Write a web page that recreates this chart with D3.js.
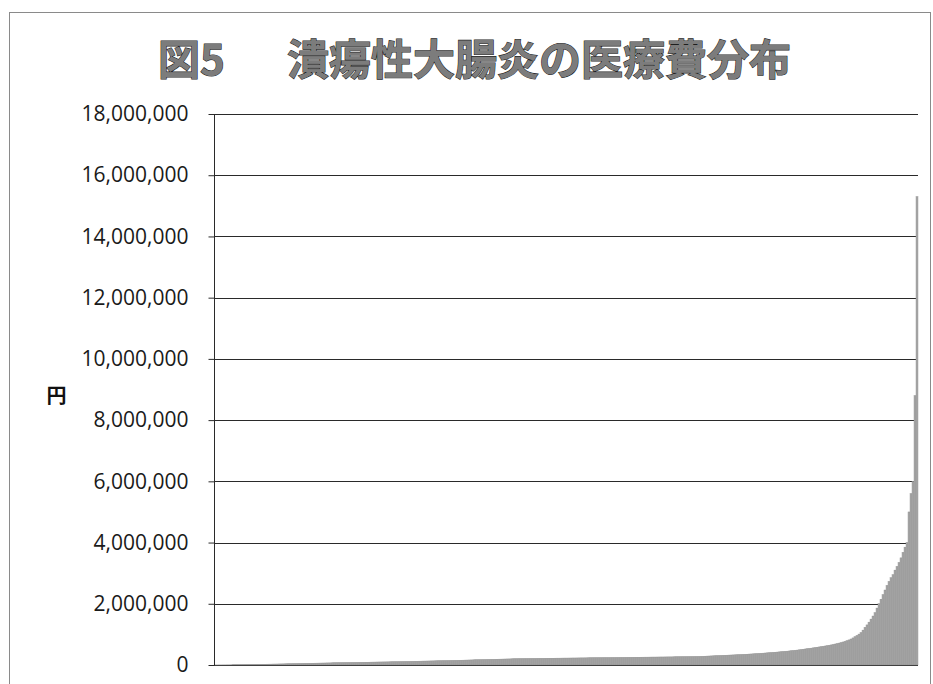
<!DOCTYPE html>
<html>
<head>
<meta charset="utf-8">
<script src="https://cdn.jsdelivr.net/npm/d3@7"></script>
<style>
  html, body { margin: 0; padding: 0; background: #fff; }
  svg { display: block; }
</style>
</head>
<body>
<svg id="chart" width="933" height="684"></svg>
<script>
// 患者別医療費（千円）、昇順
const costK = [
  2, 2, 3, 3, 4, 4, 5, 5, 6, 7, 8, 9, 10, 12, 14,
  16, 17, 18, 19, 20, 21, 22, 23, 24, 25, 26, 27, 28, 29, 31, 32, 33, 35, 36, 37, 39, 40, 42, 43, 45, 46, 48, 50,
  51, 52, 54, 55, 56, 57, 58, 60, 61, 62, 64, 65, 66, 68, 69, 70, 72, 73, 75,
  76, 77, 78, 79, 80, 81, 82, 83, 84, 85, 86, 88, 89, 90, 91, 92, 94, 95, 96, 98, 99,
  100, 101, 102, 103, 104, 105, 106, 107, 108, 110,
  111, 113, 114, 116, 117, 119, 120, 122, 123, 125, 126, 128, 129, 131, 132, 134, 135, 137, 138, 140,
  141, 143, 144, 146, 147, 149, 150, 152, 153, 155, 156, 158, 160, 162, 164,
  166, 168, 170, 171, 173, 175, 177, 178, 180, 182, 184, 185, 187, 189, 191, 192, 194, 196, 198, 199,
  201, 203, 205, 207, 209,
  210, 211, 212, 212, 213, 214, 215, 215, 216, 217, 218, 218, 219, 220, 221, 221, 222, 223, 224, 224,
  225, 226, 227, 227, 228, 229, 230, 230, 231, 232, 233, 233, 234, 235, 236, 236, 237, 238, 239, 240,
  240, 241, 242, 242, 243, 244, 245, 245, 246, 247, 248, 248, 249, 250, 251, 251, 252, 253, 254, 254,
  255, 256, 257, 257, 258, 259, 260, 260, 261, 262, 263, 263, 264, 265, 266, 266, 267, 268, 269, 270,
  271, 272, 273, 274, 275, 276, 277, 278, 279, 280,
  282, 285, 288, 291, 294, 297, 300, 303, 306, 309, 312, 315, 318, 321, 324, 327, 330, 333, 336, 339,
  342, 346, 349, 353, 357, 361, 365, 369, 373, 378,
  382, 387, 392, 397, 402, 407, 412, 417, 422, 428, 434, 440, 446, 452, 458, 465, 472, 479, 487, 496,
  505, 514, 523, 532, 541, 550, 560, 570, 580, 590, 600, 610, 621, 632, 644,
  656, 670, 685, 700, 716, 733, 752, 772, 795, 820,
  850, 885, 925, 965, 1010,
  1060, 1140, 1230,
  1310, 1400, 1500, 1600,
  1710, 1860,
  2000, 2150, 2300,
  2450, 2600, 2730,
  2850, 2950, 3100, 3220, 3350,
  3500, 3680, 3850,
  4000, 5000, 5600, 6000, 8800, 15300
];

const yTickValues = [0, 2000000, 4000000, 6000000, 8000000, 10000000,
                     12000000, 14000000, 16000000, 18000000];
const titleHead = "図5\u3000";
const titleBody = "潰瘍性大腸炎の医療費分布";
const yUnit = "円";

const svg = d3.select("#chart");
const plot = { left: 214, right: 918, top: 114, bottom: 665 };

// outer chart-area border
svg.append("rect")
  .attr("x", 9.5).attr("y", 12.5)
  .attr("width", 921).attr("height", 700)
  .attr("fill", "none")
  .attr("stroke", "#8a8a8a")
  .attr("stroke-width", 1);

// title (outlined grey lettering)
const title = svg.append("text")
  .attr("x", 158).attr("y", 75)
  .attr("font-family", "'Noto Sans CJK JP', sans-serif")
  .attr("font-weight", 700)
  .attr("font-size", 42)
  .attr("fill", "#7c7c7c")
  .attr("stroke", "#1e1e1e")
  .attr("stroke-width", 1.1)
  .attr("paint-order", "stroke")
  .attr("xml:space", "preserve");
title.append("tspan").text(titleHead);
title.append("tspan").attr("x", 287).text(titleBody);

const x = d3.scaleBand()
  .domain(d3.range(costK.length))
  .range([plot.left, plot.right])
  .padding(0);

const y = d3.scaleLinear()
  .domain([0, 18000000])
  .range([plot.bottom, plot.top]);

// horizontal gridlines
svg.append("g")
  .selectAll("line")
  .data(yTickValues)
  .join("line")
  .attr("x1", plot.left).attr("x2", plot.right)
  .attr("y1", d => Math.round(y(d)) + 0.5)
  .attr("y2", d => Math.round(y(d)) + 0.5)
  .attr("stroke", "#2a2a2a")
  .attr("stroke-width", 1);

// bars
svg.append("g")
  .selectAll("rect")
  .data(costK)
  .join("rect")
  .attr("x", (d, i) => x(i))
  .attr("width", x.bandwidth())
  .attr("y", d => y(d * 1000))
  .attr("height", d => plot.bottom - y(d * 1000))
  .attr("fill", "#a8a8a8")
  .attr("stroke", "#8d8d8d")
  .attr("stroke-width", 0.4);

// y axis
const yAxis = d3.axisLeft(y)
  .tickValues(yTickValues)
  .tickFormat(d3.format(","))
  .tickSize(6)
  .tickPadding(20);

const gy = svg.append("g")
  .attr("transform", `translate(${plot.left + 0.5},0)`)
  .call(yAxis);
gy.select(".domain").attr("stroke", "#2a2a2a").attr("d", `M0,${plot.top}V${plot.bottom + 0.5}`);
gy.selectAll(".tick line").attr("stroke", "#2a2a2a");
gy.selectAll(".tick text")
  .attr("font-family", "'Open Sans', sans-serif")
  .attr("font-size", 21)
  .attr("fill", "#1a1a1a");

// unit label
svg.append("text")
  .attr("x", 56.5).attr("y", 403)
  .attr("text-anchor", "middle")
  .attr("font-family", "'Noto Sans CJK JP', sans-serif")
  .attr("font-weight", 700)
  .attr("font-size", 20)
  .attr("fill", "#111")
  .text(yUnit);
</script>
</body>
</html>
